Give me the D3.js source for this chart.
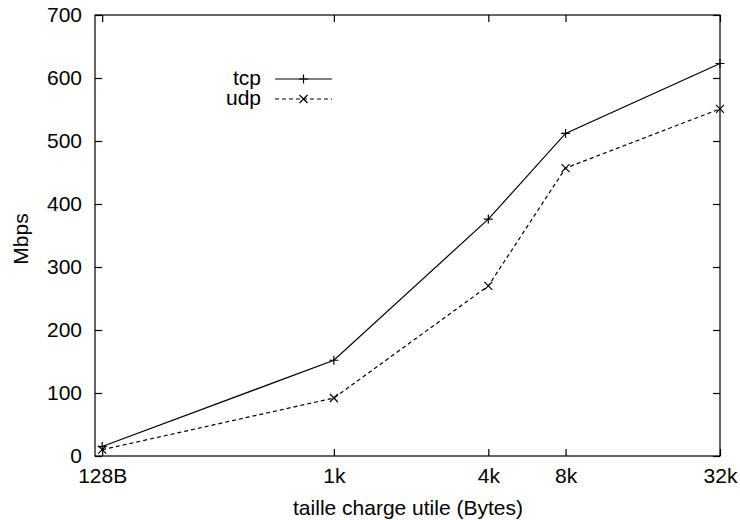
<!DOCTYPE html>
<html>
<head>
<meta charset="utf-8">
<script src="https://cdn.jsdelivr.net/npm/d3@7"></script>
<style>
  body { margin: 0; background: #fff; }
  svg text { font-family: "Liberation Sans", Arial, sans-serif; font-size: 21px; fill: #000; }
</style>
</head>
<body>
<div id="chart"></div>
<script>
    var sizes = [128, 1024, 4096, 8192, 32768];
    var sizeLabels = ["128B", "1k", "4k", "8k", "32k"];
    var tcpValues = [15, 152, 376, 512, 623];
    var udpValues = [10, 92, 270, 457, 551];
    var yTicks = [0, 100, 200, 300, 400, 500, 600, 700];

(function() {
    var width = 740,
        height = 520;
    var plotLeft = 95, plotRight = 720, plotTop = 15, plotBottom = 456;
    var fontSize = "21px";

    var svg = d3.select("#chart")
        .append("svg")
        .attr("width", width)
        .attr("height", height);

    var x = d3.scaleLog().base(2)
        .domain([120, 32768])
        .range([plotLeft, plotRight]);

    var y = d3.scaleLinear()
        .domain([0, 700])
        .range([plotBottom, plotTop]);

    // frame
    svg.append("rect")
        .attr("x", plotLeft).attr("y", plotTop)
        .attr("width", plotRight - plotLeft).attr("height", plotBottom - plotTop)
        .attr("fill", "none").attr("stroke", "#000").attr("stroke-width", 1.2);

    // y axis, ticks inward and mirrored on the right
    svg.append("g")
        .attr("transform", "translate(" + plotLeft + ",0)")
        .call(d3.axisLeft(y).tickValues(yTicks).tickSizeInner(-7).tickSizeOuter(0).tickPadding(13));
    svg.append("g")
        .attr("transform", "translate(" + plotRight + ",0)")
        .call(d3.axisRight(y).tickValues(yTicks).tickSizeInner(-7).tickSizeOuter(0).tickFormat(""));

    svg.append("g")
        .attr("transform", "translate(0," + plotBottom + ")")
        .call(d3.axisBottom(x).tickValues(sizes).tickSizeInner(-7).tickSizeOuter(0).tickPadding(12)
            .tickFormat(function(d, i) { return sizeLabels[i]; }));
    svg.append("g")
        .attr("transform", "translate(0," + plotTop + ")")
        .call(d3.axisTop(x).tickValues(sizes).tickSizeInner(-7).tickSizeOuter(0).tickFormat(""));

    svg.selectAll(".domain").remove();
    svg.selectAll(".tick line").attr("stroke", "#000").attr("stroke-width", 1.2);
    svg.selectAll(".tick text")
        .style("font-family", "'Liberation Sans', Arial, sans-serif")
        .style("font-size", fontSize).attr("fill", "#000");

    // axis titles
    svg.append("text")
        .attr("x", 408).attr("y", 515)
        .attr("text-anchor", "middle")
        .text("taille charge utile (Bytes)");
    svg.append("text")
        .attr("transform", "translate(28," + 239 + ") rotate(-90)")
        .attr("text-anchor", "middle")
        .text("Mbps");

    var line = d3.line()
        .x(function(d, i) { return x(sizes[i]); })
        .y(function(d) { return y(d); });

    function plus(g, cx, cy) {
        g.append("path")
            .attr("d", "M" + (cx - 4.5) + "," + cy + "H" + (cx + 4.5) + "M" + cx + "," + (cy - 4.5) + "V" + (cy + 4.5))
            .attr("stroke", "#000").attr("stroke-width", 1.2).attr("fill", "none");
    }
    function cross(g, cx, cy) {
        g.append("path")
            .attr("d", "M" + (cx - 4) + "," + (cy - 4) + "L" + (cx + 4) + "," + (cy + 4) +
                       "M" + (cx - 4) + "," + (cy + 4) + "L" + (cx + 4) + "," + (cy - 4))
            .attr("stroke", "#000").attr("stroke-width", 1.2).attr("fill", "none");
    }

    // tcp
    svg.append("path")
        .datum(tcpValues)
        .attr("d", line)
        .attr("fill", "none").attr("stroke", "#000").attr("stroke-width", 1.2);
    tcpValues.forEach(function(v, i) { plus(svg, x(sizes[i]), y(v)); });

    // udp
    svg.append("path")
        .datum(udpValues)
        .attr("d", line)
        .attr("fill", "none").attr("stroke", "#000").attr("stroke-width", 1.2)
        .attr("stroke-dasharray", "4,3");
    udpValues.forEach(function(v, i) { cross(svg, x(sizes[i]), y(v)); });

    // legend
    var legend = svg.append("g");
    legend.append("text").attr("x", 261).attr("y", 85).attr("text-anchor", "end").text("tcp");
    legend.append("line").attr("x1", 275).attr("x2", 332).attr("y1", 79).attr("y2", 79)
        .attr("stroke", "#000").attr("stroke-width", 1.2);
    plus(legend, 303.5, 79);
    legend.append("text").attr("x", 261).attr("y", 105).attr("text-anchor", "end").text("udp");
    legend.append("line").attr("x1", 275).attr("x2", 332).attr("y1", 99).attr("y2", 99)
        .attr("stroke", "#000").attr("stroke-width", 1.2).attr("stroke-dasharray", "4,3");
    cross(legend, 303.5, 99);
})();
</script>
</body>
</html>
